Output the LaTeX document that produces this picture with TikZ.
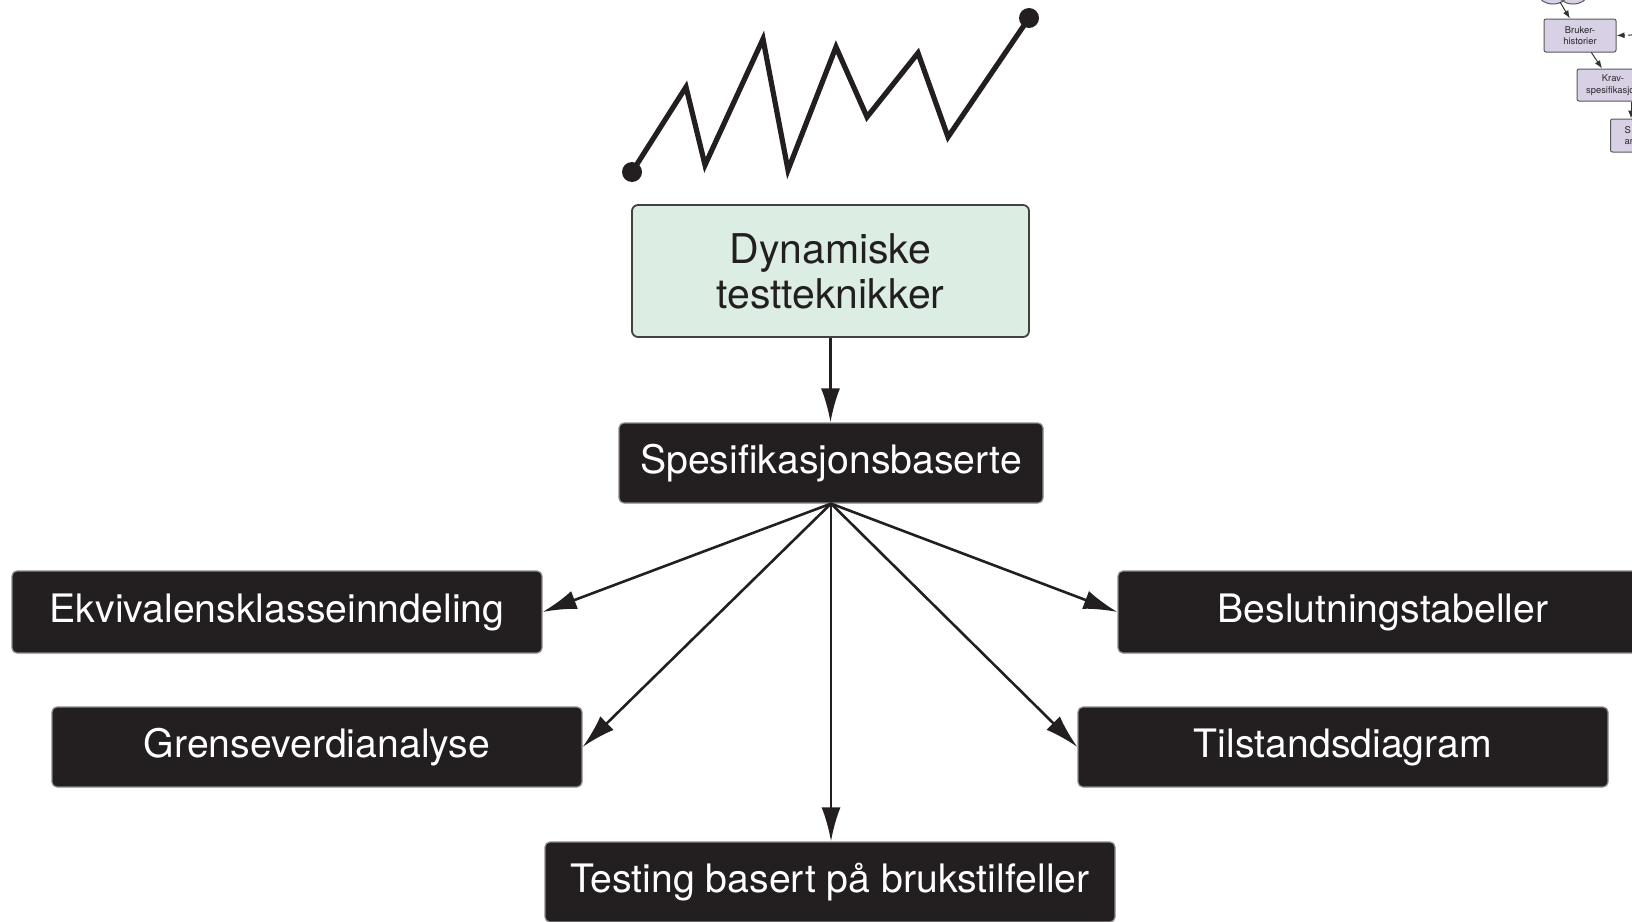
\documentclass[tikz,border=0pt]{standalone}
\usepackage{fontspec}
\setmainfont{TeX Gyre Heros}
\usetikzlibrary{arrows.meta}

\definecolor{boxblack}{HTML}{231F20}
\definecolor{mint}{HTML}{DCEEE3}
\definecolor{lilac}{HTML}{D8D0E5}
\definecolor{rimgray}{HTML}{8A8A8A}

\begin{document}
\begin{tikzpicture}[x=0.5pt,y=-0.5pt,
  darkbox/.style={draw=rimgray, line width=0.6pt, fill=boxblack, text=white,
    rounded corners=2.5pt, minimum width=265pt, minimum height=40pt, inner sep=0pt,
    font=\fontsize{19.6}{22}\selectfont},
  topbox/.style={draw=boxblack!85, line width=0.9pt, fill=mint, text=boxblack,
    rounded corners=3pt, minimum width=198.5pt, minimum height=66pt, inner sep=0pt,
    align=center, font=\fontsize{20.5}{22.5}\selectfont},
  minibox/.style={draw=black!65, line width=0.5pt, fill=lilac, text=black!85,
    rounded corners=1pt, minimum width=36pt, minimum height=16.5pt, inner sep=1pt,
    align=center, font=\fontsize{4.7}{5.8}\selectfont},
  link/.style={line width=1.3pt, draw=boxblack, -{Latex[length=17pt,width=9.5pt]}},
  minilink/.style={line width=0.5pt, draw=black!80, -{Latex[length=4pt,width=3pt]}},
  zig/.style={line width=2.6pt, draw=boxblack, line join=miter},
]
\useasboundingbox (0,0) rectangle (1632,921);
\clip (0,0) rectangle (1632,921);

% rising zigzag with end dots
\coordinate (z0) at (632,172);
\coordinate (z1) at (686,87);
\coordinate (z2) at (705,165);
\coordinate (z3) at (763,39);
\coordinate (z4) at (788,170);
\coordinate (z5) at (836,47);
\coordinate (z6) at (867,117);
\coordinate (z7) at (918,53);
\coordinate (z8) at (948,137);
\coordinate (z9) at (1029,18);
\draw[zig] (z0) -- (z1) -- (z2) -- (z3) -- (z4) -- (z5) -- (z6) -- (z7) -- (z8) -- (z9);
\fill[boxblack] (z0) circle (5pt);
\fill[boxblack] (z9) circle (5pt);

% main nodes
\node[topbox] (dyn) at (830.5,271) {Dynamiske\\testteknikker};
\node[darkbox, minimum width=212pt] (spes) at (831,463) {Spesifikasjonsbaserte};
\node[darkbox, minimum height=41pt] (ekv) at (277,612) {Ekvivalensklasseinndeling};
\node[darkbox] (gre) at (317,747) {Grenseverdianalyse};
\node[darkbox, minimum height=41pt] (bes) at (1383,612) {Beslutningstabeller};
\node[darkbox] (til) at (1343,747) {Tilstandsdiagram};
\node[darkbox, minimum width=285pt] (tst) at (830,882) {Testing basert på brukstilfeller};

% connectors
\draw[link] (dyn.south) -- (dyn.south |- spes.north);
\draw[link] (spes.south) -- (ekv.east);
\draw[link] (spes.south) -- (gre.east);
\draw[link] (spes.south) -- (spes.south |- tst.north);
\draw[link] (spes.south) -- (bes.west);
\draw[link] (spes.south) -- (til.west);

% small process chart at the upper right corner
\fill[lilac] (1553,-5) ellipse [x radius=7pt, y radius=4.5pt];
\fill[lilac] (1573,-5) ellipse [x radius=7pt, y radius=4.5pt];
\draw[black!65, line width=0.5pt] (1553,-5) ellipse [x radius=7pt, y radius=4.5pt];
\draw[black!65, line width=0.5pt] (1573,-5) ellipse [x radius=7pt, y radius=4.5pt];
\coordinate (cloudbot) at (1560,2);

\node[minibox] (brk) at (1580,35.5) {Bruker-\\historier};
\node[minibox, minimum height=16pt] (krv) at (1613,85) {Krav-\\spesifikasjon};
\node[minibox, anchor=west, align=left, text width=28pt, inner xsep=7pt] (s3) at (1610,135.5) {S\\ar};

\coordinate (dashsrc) at (1660,34);
\draw[minilink] (cloudbot) -- (brk);
\draw[minilink, dashed, dash pattern=on 2pt off 1.5pt] (dashsrc) -- (brk.east);
\draw[minilink] (brk) -- (krv);
\coordinate (kv) at ([xshift=9pt]krv.south);
\draw[minilink] (kv) -- (kv |- s3.north);
\end{tikzpicture}
\end{document}
